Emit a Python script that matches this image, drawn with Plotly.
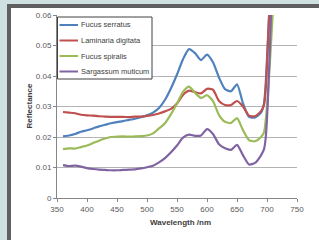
import plotly.graph_objects as go

wavelength_main = [360, 370, 380, 390, 400, 410, 420, 430, 440, 450, 460, 470, 480, 490,
                   500, 510, 520, 530, 540, 550, 560, 570, 580, 590, 600, 610, 620, 630,
                   640, 650, 660, 670, 680, 690]

fucus_serratus = [0.0202, 0.0205, 0.0210, 0.0217, 0.0222, 0.0228, 0.0235, 0.0240, 0.0245, 0.0249,
                  0.0252, 0.0256, 0.0260, 0.0265, 0.0271, 0.0280, 0.0295, 0.0322, 0.0360, 0.0405,
                  0.0455, 0.0488, 0.0475, 0.0452, 0.0470, 0.0445, 0.0395, 0.0357, 0.0350, 0.0373,
                  0.0310, 0.0266, 0.0264, 0.0280]
fucus_serratus_tail_wl = [695, 698, 701, 704]
fucus_serratus_tail = [0.0310, 0.0380, 0.0500, 0.0620]

laminaria_digitata = [0.0282, 0.0280, 0.0278, 0.0273, 0.0271, 0.0270, 0.0268, 0.0267, 0.0266, 0.0266,
                      0.0266, 0.0265, 0.0267, 0.0267, 0.0269, 0.0272, 0.0277, 0.0284, 0.0292, 0.0310,
                      0.0338, 0.0352, 0.0347, 0.0343, 0.0358, 0.0355, 0.0318, 0.0305, 0.0305, 0.0318,
                      0.0300, 0.0270, 0.0268, 0.0285]
laminaria_digitata_tail_wl = [695, 698, 701, 704]
laminaria_digitata_tail = [0.0305, 0.0360, 0.0480, 0.0620]

fucus_spiralis = [0.0160, 0.0163, 0.0162, 0.0167, 0.0172, 0.0180, 0.0188, 0.0195, 0.0200, 0.0201,
                  0.0202, 0.0201, 0.0202, 0.0203, 0.0205, 0.0212, 0.0228, 0.0245, 0.0275, 0.0310,
                  0.0348, 0.0365, 0.0345, 0.0328, 0.0337, 0.0318, 0.0272, 0.0250, 0.0246, 0.0262,
                  0.0222, 0.0190, 0.0186, 0.0200]
fucus_spiralis_tail_wl = [695, 700, 705, 710]
fucus_spiralis_tail = [0.0215, 0.0300, 0.0450, 0.0620]

sargassum_muticum = [0.0108, 0.0105, 0.0106, 0.0103, 0.0098, 0.0095, 0.0093, 0.0092, 0.0091, 0.0091,
                     0.0092, 0.0093, 0.0094, 0.0097, 0.0101, 0.0106, 0.0117, 0.0131, 0.0150, 0.0172,
                     0.0198, 0.0208, 0.0204, 0.0205, 0.0226, 0.0210, 0.0176, 0.0163, 0.0158, 0.0174,
                     0.0140, 0.0110, 0.0115, 0.0140]
sargassum_muticum_tail_wl = [695, 698, 701, 704, 707]
sargassum_muticum_tail = [0.0160, 0.0200, 0.0300, 0.0450, 0.0620]

x_ticks = [350, 400, 450, 500, 550, 600, 650, 700, 750]
y_ticks = [0, 0.01, 0.02, 0.03, 0.04, 0.05, 0.06]
y_tick_labels = ["0", "0.01", "0.02", "0.03", "0.04", "0.05", "0.06"]

series_names = ["Fucus serratus", "Laminaria digitata", "Fucus spiralis", "Sargassum muticum"]
series_colors = ["#4F81BD", "#C0504D", "#9BBB59", "#8064A2"]
series = [
    (series_names[0], fucus_serratus, fucus_serratus_tail_wl, fucus_serratus_tail, series_colors[0]),
    (series_names[1], laminaria_digitata, laminaria_digitata_tail_wl, laminaria_digitata_tail, series_colors[1]),
    (series_names[2], fucus_spiralis, fucus_spiralis_tail_wl, fucus_spiralis_tail, series_colors[2]),
    (series_names[3], sargassum_muticum, sargassum_muticum_tail_wl, sargassum_muticum_tail, series_colors[3]),
]

W, H = 319, 240
L, R, T, B = 57, 22, 15, 42
PW, PH = W - L - R, H - T - B


def px(x):
    return (x - L) / PW


def py(y):
    return (H - B - y) / PH


fig = go.Figure()
for name, vals, twl, tvals, color in series:
    fig.add_trace(go.Scatter(
        x=wavelength_main + twl, y=vals + tvals, mode="lines", name=name,
        line=dict(color=color, width=2.2, shape="spline", smoothing=0.6),
        showlegend=False,
    ))

font_family = "Liberation Sans, Arial, sans-serif"

shapes = [
    dict(type="rect", xref="paper", yref="paper", layer="below",
         x0=px(7), x1=px(W + 5), y0=py(H + 5), y1=py(4),
         fillcolor="#5f5f5f", line=dict(width=0)),
    dict(type="rect", xref="paper", yref="paper", layer="below",
         x0=px(11), x1=px(W + 5), y0=py(H + 5), y1=py(8),
         fillcolor="white", line=dict(width=0)),
    # legend box
    dict(type="rect", xref="paper", yref="paper", layer="above",
         x0=px(57.5), x1=px(152), y0=py(79), y1=py(17),
         fillcolor="white", line=dict(color="#404040", width=1)),
]
annotations = [
    dict(text="<b>Reflectance</b>", xref="paper", yref="paper",
         x=px(22), y=py(106), textangle=-90, showarrow=False,
         font=dict(size=8, color="#404040")),
    dict(text="<b>Wavelength /nm</b>", xref="paper", yref="paper",
         x=px(180), y=py(229), showarrow=False,
         font=dict(size=8, color="#404040")),
]
legend_rows = [25, 40.5, 56, 71.5]
for name, color, ry in zip(series_names, series_colors, legend_rows):
    shapes.append(dict(type="line", xref="paper", yref="paper", layer="above",
                       x0=px(59.5), x1=px(78), y0=py(ry), y1=py(ry),
                       line=dict(color=color, width=2)))
    annotations.append(dict(text=name, xref="paper", yref="paper",
                            x=px(79), y=py(ry), xanchor="left", yanchor="middle",
                            showarrow=False, font=dict(size=7.5, color="#404040")))

fig.update_layout(
    width=W, height=H,
    margin=dict(l=L, r=R, t=T, b=B, pad=0),
    paper_bgcolor="#cfe0e0",
    plot_bgcolor="rgba(0,0,0,0)",
    font=dict(family=font_family, size=8, color="#595959"),
    showlegend=False,
    xaxis=dict(
        range=[350, 750], tickvals=x_ticks, ticks="outside", ticklen=3,
        tickcolor="#868686", showline=True, linecolor="#868686", linewidth=1,
        showgrid=False, zeroline=False, tickfont=dict(size=8, color="#595959"),
    ),
    yaxis=dict(
        range=[0, 0.06], tickvals=y_ticks, ticktext=y_tick_labels, ticks="outside",
        ticklen=3, tickcolor="#868686", showline=True, linecolor="#868686", linewidth=1,
        showgrid=True, gridcolor="#b3b3b3", gridwidth=1, zeroline=False,
        tickfont=dict(size=8, color="#595959"),
    ),
    shapes=shapes,
    annotations=annotations,
)

fig.write_html("out.html", config={"displayModeBar": False},
               post_script="document.body.style.margin='0';")
